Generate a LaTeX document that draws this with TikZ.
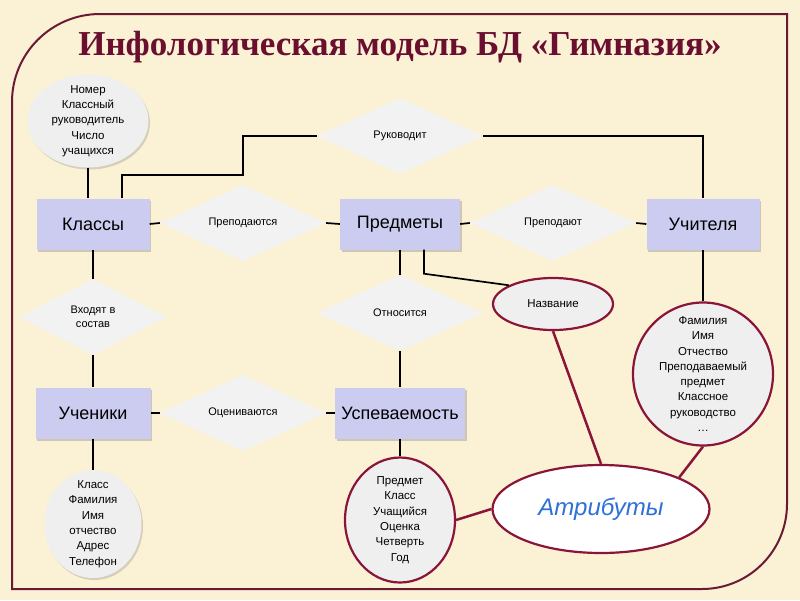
\documentclass[tikz,border=0pt]{standalone}
\usepackage{fontspec}
\setmainfont{Liberation Sans}
\newfontfamily\titlefont{Liberation Serif}
\usetikzlibrary{shapes.geometric,shadows}
\definecolor{bg}{HTML}{FBF1D5}
\definecolor{framec}{HTML}{6B1A35}
\definecolor{titlec}{HTML}{6A0F2F}
\definecolor{entfill}{HTML}{CCCCF0}
\definecolor{relfill}{HTML}{F2F2F2}
\definecolor{attrfill}{HTML}{EFEFEF}
\definecolor{redc}{HTML}{8A1538}
\definecolor{bluec}{HTML}{2E6FD9}
\tikzset{
  entity/.style={rectangle, fill=entfill, minimum height=51pt, inner sep=0pt,
    font=\fontsize{18}{20}\selectfont,
    drop shadow={shadow xshift=1.5pt, shadow yshift=-2pt, opacity=0.3, fill=black!60}},
  rel/.style={diamond, fill=relfill, minimum width=166pt, minimum height=76pt,
    shape aspect=2.2, inner sep=0pt, align=center, font=\fontsize{11}{14}\selectfont},
  grayattr/.style={ellipse, fill=attrfill, inner sep=0pt,
    drop shadow={shadow xshift=1.5pt, shadow yshift=-2pt, opacity=0.25, fill=black!60}},
  redattr/.style={ellipse, fill=attrfill, draw=redc, line width=2.2pt, inner sep=0pt},
  attrtext/.style={align=center, inner sep=0pt, font=\fontsize{11.5}{15.3}\selectfont},
  conn/.style={line width=1.7pt, black},
  redconn/.style={line width=2.5pt, redc}
}
\begin{document}
\begin{tikzpicture}[x=1pt,y=-1pt]
\fill[bg] (0,0) rectangle (800,600);
\useasboundingbox (0,0) rectangle (800,600);
% frame
\draw[framec, line width=2pt] (12,589) -- (12,102) arc[start angle=180,end angle=90,radius=88pt]
  -- (787,14) -- (787,504) arc[start angle=0,end angle=-90,radius=85pt] -- cycle;
% title
\node[titlec, font=\titlefont\bfseries\fontsize{35}{40}\selectfont] (title) at (400,47)
  {Инфологическая модель БД «Гимназия»};
% entities
\node[entity, minimum width=113pt] (kl) at (93,224) {Классы};
\node[entity, minimum width=120pt] (pr) at (400,224) {Предметы};
\node[entity, minimum width=113pt] (uch) at (703,224) {Учителя};
\node[entity, minimum width=115pt] (un) at (93,413) {Ученики};
\node[entity, minimum width=130pt] (usp) at (400,413) {Успеваемость};
% relationships
\node[rel] (ruk) at (400,136) {Руководит};
\node[rel] (prs) at (243,223) {Преподаются};
\node[rel] (prt) at (553,223) {Преподают};
\node[rel, minimum width=147pt] (vh) at (93,317) {Входят в\\состав};
\node[rel] (otn) at (400,313) {Относится};
\node[rel] (ots) at (243,413) {Оцениваются};
% attributes
\node[grayattr, minimum width=121pt, minimum height=93pt] (ak) at (88,121) {};
\node[attrtext] (akt) at (ak.center) {Номер\\Классный\\руководитель\\Число\\учащихся};
\node[grayattr, minimum width=97pt, minimum height=108pt] (au) at (93,524) {};
\node[attrtext] (aut) at (au.center) {Класс\\Фамилия\\Имя\\отчество\\Адрес\\Телефон};
\node[redattr, minimum width=110pt, minimum height=125pt] (as) at (400,520) {};
\node[attrtext] (ast) at (as.center) {Предмет\\Класс\\Учащийся\\Оценка\\Четверть\\Год};
\node[redattr, minimum width=120pt, minimum height=52pt, font=\fontsize{11.5}{14}\selectfont] (naz) at (553,304) {Название};
\node[redattr, minimum width=140pt, minimum height=143pt] (at) at (703,374) {};
\node[attrtext] (att) at (at.center) {Фамилия\\Имя\\Отчество\\Преподаваемый\\предмет\\Классное\\руководство\\\dots};
\node[redattr, fill=white, minimum width=217pt, minimum height=88pt,
  font=\itshape\fontsize{24}{28}\selectfont, text=bluec] (atr) at (601,509) {Атрибуты};
% black connectors
\draw[conn] (ak.south) -- (ak.south |- kl.north);
\draw[conn] ([xshift=29pt]kl.north) |- (243,175) |- (ruk.west);
\draw[conn] (ruk.east) -| (uch.north);
\draw[conn] (kl.east) -- (prs.west);
\draw[conn] (prs.east) -- (pr.west);
\draw[conn] (pr.east) -- (prt.west);
\draw[conn] (prt.east) -- (uch.west);
\draw[conn] (kl.south) -- (vh.north);
\draw[conn] (vh.south) -- (un.north);
\draw[conn] (un.east) -- (ots.west);
\draw[conn] (ots.east) -- (usp.west);
\draw[conn] (un.south) -- (au.north);
\draw[conn] (pr.south) -- (otn.north);
\draw[conn] (otn.south) -- (usp.north);
\draw[conn] (usp.south) -- (as.north);
\draw[conn] ([xshift=24pt]pr.south) -- ++(0,24) -- (naz.157);
\draw[conn] (uch.south) -- (at.north);
% red connectors
\draw[redconn] (naz.south) -- (atr.north);
\draw[redconn] (at.south) -- (atr.22);
\draw[redconn] (as.east) -- (atr.west);
\end{tikzpicture}
\end{document}
